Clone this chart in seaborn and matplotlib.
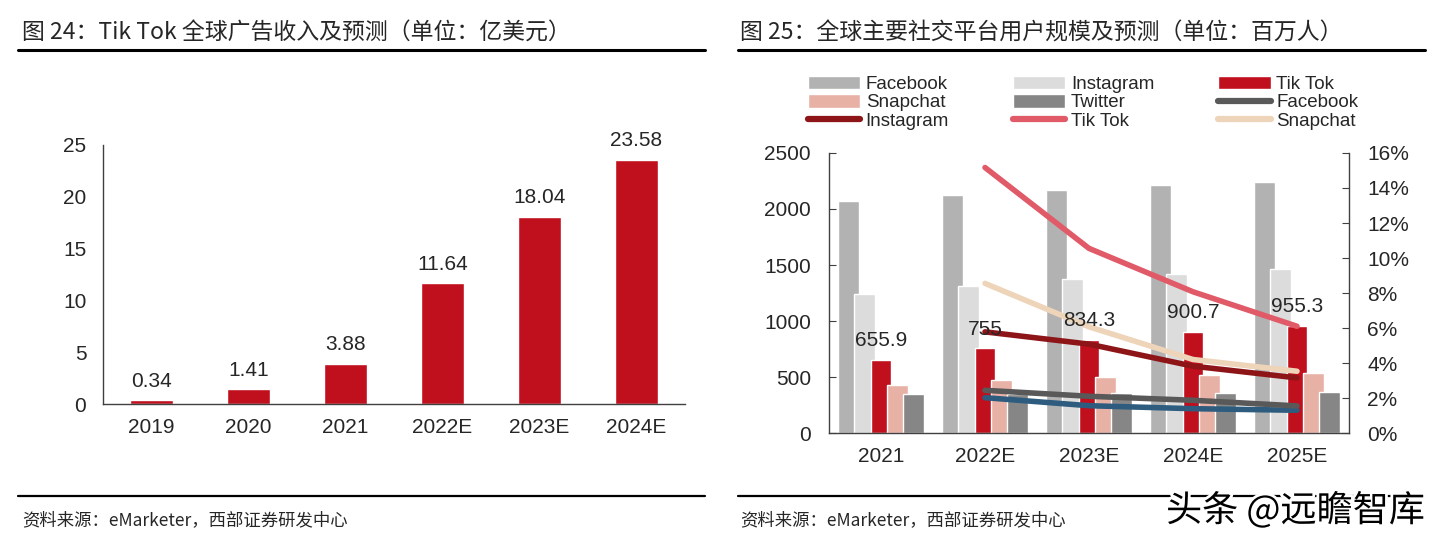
"""
TikTok ad revenue + global social platform users (two-panel report figure).
"""

import numpy as np
import matplotlib.pyplot as plt
import seaborn as sns
from matplotlib.lines import Line2D
from matplotlib.patches import Patch
from matplotlib.ticker import PercentFormatter
import matplotlib.patheffects as pe

# --- left panel: TikTok global ad revenue (亿美元)
ad_years = ["2019", "2020", "2021", "2022E", "2023E", "2024E"]
ad_revenue = [0.34, 1.41, 3.88, 11.64, 18.04, 23.58]

# --- right panel: users (百万人)
user_years = ["2021", "2022E", "2023E", "2024E", "2025E"]
fb_users = [2073, 2121, 2166, 2211, 2243]
ig_users = [1238, 1310, 1372, 1423, 1468]
tt_users = [655.9, 755, 834.3, 900.7, 955.3]
sc_users = [433, 471, 498, 519, 537]
tw_users = [346, 352, 358, 361, 367]

# growth rates, 2022E-2025E (right axis)
fb_growth = [0.0244, 0.0210, 0.0187, 0.0155]
ig_growth = [0.0578, 0.0508, 0.0382, 0.0315]
tt_growth = [0.1517, 0.1055, 0.0807, 0.0610]
sc_growth = [0.0855, 0.0607, 0.0420, 0.0353]
tw_growth = [0.0202, 0.0156, 0.0139, 0.0130]

RED = "#C00F1D"
AXIS = "#404040"
FS = 15

sns.set_style("white")
plt.rcParams["font.family"] = ["Liberation Sans", "Noto Sans CJK SC", "DejaVu Sans"]
CJK = ["Noto Sans CJK SC", "DejaVu Sans"]

fig = plt.figure(figsize=(14.4, 5.41), dpi=100)


def style_axis(ax, n, ypad):
    ax.set_xlim(-0.5, n - 0.5)
    ax.set_xticks(range(n))
    ax.set_xticks(np.arange(-0.5, n), minor=True)
    ax.tick_params(axis="x", which="major", length=0, pad=10, labelsize=FS)
    ax.tick_params(axis="x", which="minor", length=5, direction="in", color=AXIS)
    ax.tick_params(axis="y", length=5, direction="in", color=AXIS, pad=ypad, labelsize=FS)
    ax.spines["top"].set_visible(False)
    ax.spines["right"].set_visible(False)
    for s in ("left", "bottom"):
        ax.spines[s].set_color(AXIS)
        ax.spines[s].set_linewidth(1)
    ax.set_xlabel("")
    ax.set_ylabel("")


# ---------------- left panel ----------------
ax1 = fig.add_axes([0.0715, 0.2532, 0.4042, 0.4788])
sns.barplot(x=ad_years, y=ad_revenue, color=RED, saturation=1, width=0.45, ax=ax1)
ax1.set_ylim(0, 25)
ax1.set_yticks([0, 5, 10, 15, 20, 25])
style_axis(ax1, len(ad_years), 12)
ax1.set_xticklabels(ad_years)
for i, v in enumerate(ad_revenue):
    ax1.annotate(f"{v:.2f}", (i, v), xytext=(0, 7), textcoords="offset points",
                 ha="center", va="bottom", fontsize=FS)

# ---------------- right panel ----------------
ax2 = fig.add_axes([0.5757, 0.1996, 0.3611, 0.5176])
bar_series = [
    ("Facebook", fb_users, "#B2B2B2", -0.31),
    ("Instagram", ig_users, "#DCDCDC", -0.155),
    ("Tik Tok", tt_users, RED, 0.0),
    ("Snapchat", sc_users, "#E8B1A6", 0.155),
    ("Twitter", tw_users, "#868686", 0.31),
]
pos = np.arange(len(user_years))
for name, vals, col, off in bar_series:
    sns.barplot(x=pos + off, y=vals, native_scale=True, width=0.2, color=col,
                saturation=1, ax=ax2)
ax2.set_ylim(0, 2500)
ax2.set_yticks(range(0, 2501, 500))
style_axis(ax2, len(user_years), 13)
ax2.set_xticklabels(user_years)

ax3 = ax2.twinx()
line_series = [
    ("Twitter", tw_growth, "#2E5C7E"),
    ("Facebook", fb_growth, "#595959"),
    ("Instagram", ig_growth, "#8E1517"),
    ("Snapchat", sc_growth, "#EED4B8"),
    ("Tik Tok", tt_growth, "#E05A68"),
]
gpos = pos[1:]
for name, vals, col in line_series:
    sns.lineplot(x=gpos, y=vals, color=col, lw=4, ax=ax3, solid_capstyle="round")
ax3.set_ylim(0, 0.16)
ax3.set_yticks(np.arange(0, 0.161, 0.02))
ax3.yaxis.set_major_formatter(PercentFormatter(1.0, decimals=0))
ax3.tick_params(axis="y", length=5, direction="in", color=AXIS, pad=13, labelsize=FS)
ax3.set_ylabel("")
for s in ("top", "left", "bottom"):
    ax3.spines[s].set_visible(False)
ax3.spines["right"].set_color(AXIS)
ax3.spines["right"].set_linewidth(1)
ax2.set_xlim(-0.5, len(user_years) - 0.5)

# TikTok user labels, drawn above the lines
for i, v in enumerate(tt_users):
    ax3.annotate(f"{v:g}", (i, v), xycoords=ax2.transData, xytext=(0, 7),
                 textcoords="offset points", ha="center", va="bottom",
                 fontsize=FS, zorder=10)

# legend (column-major fill, 3 rows)
handles = [
    Patch(facecolor="#B2B2B2", label="Facebook"),
    Patch(facecolor="#E8B1A6", label="Snapchat"),
    Line2D([0], [0], color="#8E1517", lw=4.5, label="Instagram"),
    Patch(facecolor="#DCDCDC", label="Instagram"),
    Patch(facecolor="#868686", label="Twitter"),
    Line2D([0], [0], color="#E05A68", lw=4.5, label="Tik Tok"),
    Patch(facecolor=RED, label="Tik Tok"),
    Line2D([0], [0], color="#595959", lw=4.5, label="Facebook"),
    Line2D([0], [0], color="#EED4B8", lw=4.5, label="Snapchat"),
]
fig.legend(handles=handles, ncol=3, loc="center", bbox_to_anchor=(0.752, 0.81),
           frameon=False, fontsize=13.5, handlelength=2.8, handleheight=0.75,
           handletextpad=0.3, columnspacing=3.4, labelspacing=0.05, borderpad=0)

# ---------------- titles, rules, sources ----------------
fig.text(0.0153, 0.939, "图 24：Tik Tok 全球广告收入及预测（单位：亿美元）",
         family=CJK, fontsize=16.5, va="center", ha="left")
fig.text(0.514, 0.939, "图 25：全球主要社交平台用户规模及预测（单位：百万人）",
         family=CJK, fontsize=16.5, va="center", ha="left")
for x0, x1 in [(0.0125, 0.4896), (0.5125, 0.9896)]:
    fig.add_artist(Line2D([x0, x1], [0.9076, 0.9076], color="black", lw=2.2))
    fig.add_artist(Line2D([x0, x1], [0.0832, 0.0832], color="black", lw=1.6))
for x in (0.0153, 0.514):
    fig.text(x, 0.0388, "资料来源：eMarketer，西部证券研发中心",
             family=CJK, fontsize=12.5, va="center", ha="left")

fig.text(0.9896, 0.056, "头条 @远瞻智库", family=CJK, fontsize=26,
         ha="right", va="center", color="black",
         path_effects=[pe.withStroke(linewidth=4, foreground="white")])

plt.savefig("out.png", dpi=100)
plt.close()
